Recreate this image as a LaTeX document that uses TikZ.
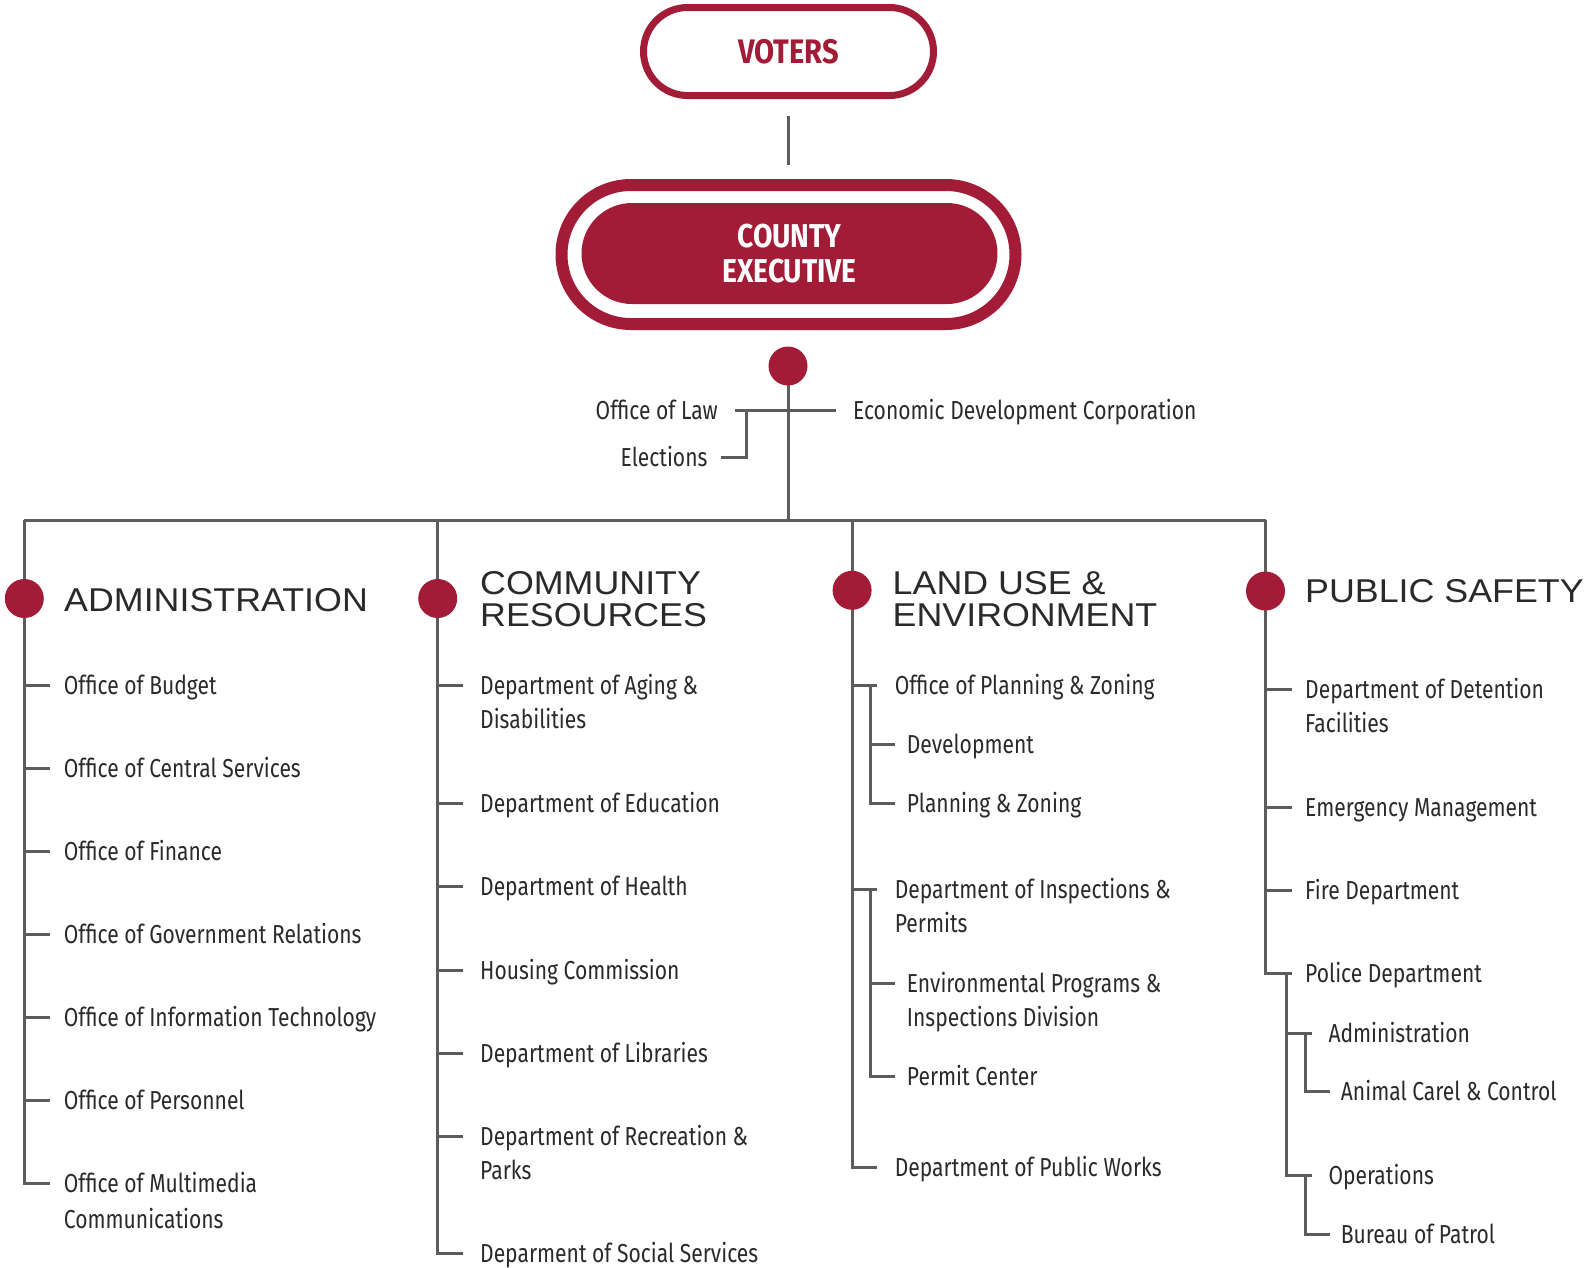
\documentclass[tikz,border=0pt]{standalone}
\usepackage{fontspec}
\newfontfamily\bodyfont{Fira Sans}[FakeStretch=0.81]
\newfontfamily\condfont{Fira Sans}[FakeStretch=0.855]
\newfontfamily\headfont{Liberation Sans}[FakeStretch=1.085]
\usetikzlibrary{calc}
\definecolor{crimson}{HTML}{A31C37}
\definecolor{linegray}{HTML}{5C5C5C}
\definecolor{txt}{HTML}{2B2A2A}

\begin{document}
\begin{tikzpicture}[x=1pt,y=-1pt,
  conn/.style={draw=linegray, line width=3pt},
  item/.style={anchor=west, inner sep=0pt, text=txt,
    font=\bodyfont\fontsize{26}{30}\selectfont, text height=18pt, text depth=0pt},
  head/.style={anchor=west, inner sep=0pt, text=txt,
    font=\headfont\fontsize{33}{36}\selectfont, text height=23.6pt, text depth=0pt},
  bigdot/.style={circle, fill=crimson, minimum size=39pt, inner sep=0pt},
]
\useasboundingbox (0,0) rectangle (1585,1267);

% ---- top of the chart ----
\node[draw=crimson, line width=7pt, fill=white, rounded corners=44pt,
  minimum width=290pt, minimum height=88pt, inner sep=0pt, text=crimson,
  font=\condfont\bfseries\fontsize{34}{36}\selectfont] (voters) at (788.5,51.5) {VOTERS};
\node[draw=crimson, line width=12pt, rounded corners=69.5pt,
  minimum width=454pt, minimum height=139pt, inner sep=0pt] (ring) at (788.5,254.5) {};
\node[fill=crimson, rounded corners=50.5pt, minimum width=416pt, minimum height=101pt,
  inner sep=0pt, text=white, align=center,
  font=\condfont\bfseries\fontsize{33}{35}\selectfont] (exec) at (789.5,253.5) {COUNTY\\EXECUTIVE};
\draw[conn] ([yshift=-17pt]voters.south) -- ([yshift=14pt]voters.south |- ring.north);

\coordinate (hubc) at (788,366);
\coordinate (bus) at (788,520);
\draw[conn] (hubc) -- (bus);

\node[item, anchor=east] (law) at (718,410) {Office of Law};
\node[item, anchor=east] (elec) at (707.6,457) {Elections};
\node[item] (edc) at (853,410) {Economic Development Corporation};
\coordinate (lawL) at (735,410);
\coordinate (edcR) at (835.7,410);
\coordinate (elbend) at (746.4,410);
\draw[conn] (lawL) -- (edcR);
\draw[conn] (elbend) |- ([xshift=13pt]elec.east);

% ---- division bus ----
\coordinate (colA) at (24.3,520);
\coordinate (colB) at (437.7,520);
\coordinate (colC) at (852.1,520);
\coordinate (colD) at (1265.5,520);
\coordinate (tA) at (49.5,520);
\coordinate (tB) at (463,520);
\coordinate (tC) at (876.7,520);
\coordinate (tD) at (1291.5,520);
\draw[conn] (colA) -- (colD);

% ---- headings ----
\node[head] (hA) at (64,600) {ADMINISTRATION};
\node[head] (hB1) at (480,583) {COMMUNITY};
\node[head] (hB2) at (480,614.6) {RESOURCES};
\node[head] (hC1) at (892.5,583) {LAND USE \&};
\node[head] (hC2) at (892.5,614.6) {ENVIRONMENT};
\node[head] (hD) at (1305,591) {PUBLIC SAFETY};

% ---- administration ----
\node[item] (a1) at (63.7,685.3) {Office of Budget};
\node[item] (a2) at (63.7,768.2) {Office of Central Services};
\node[item] (a3) at (63.7,851.1) {Office of Finance};
\node[item] (a4) at (63.7,934.0) {Office of Government Relations};
\node[item] (a5) at (63.7,1017.9) {Office of Information Technology};
\node[item] (a6) at (63.7,1100.8) {Office of Personnel};
\node[item] (a7) at (63.7,1183.7) {Office of Multimedia};
\node[item] (a7b) at (63.7,1219.1) {Communications};
\draw[conn] (colA) -- (colA |- a7.west) -- (tA |- a7.west);
\foreach \n in {a1,a2,a3,a4,a5,a6}
  \draw[conn] (colA |- \n.west) -- (tA |- \n.west);

% ---- community resources ----
\node[item] (b1) at (480,685.3) {Department of Aging \&};
\node[item] (b1b) at (480,719.7) {Disabilities};
\node[item] (b2) at (480,803.6) {Department of Education};
\node[item] (b3) at (480,886.5) {Department of Health};
\node[item] (b4) at (480,970.4) {Housing Commission};
\node[item] (b5) at (480,1053.3) {Department of Libraries};
\node[item] (b6) at (480,1136.2) {Department of Recreation \&};
\node[item] (b6b) at (480,1170.6) {Parks};
\node[item] (b7) at (480,1253.4) {Deparment of Social Services};
\draw[conn] (colB) -- (colB |- b7.west) -- (tB |- b7.west);
\foreach \n in {b1,b2,b3,b4,b5,b6}
  \draw[conn] (colB |- \n.west) -- (tB |- \n.west);

% ---- land use & environment ----
\coordinate (sC) at (870.7,520);
\coordinate (uC) at (895,520);
\node[item] (c1) at (894.6,685.3) {Office of Planning \& Zoning};
\node[item] (c1a) at (906.7,744) {Development};
\node[item] (c1c) at (906.7,803.6) {Planning \& Zoning};
\node[item] (c2) at (894.6,889.5) {Department of Inspections \&};
\node[item] (c2b) at (894.6,923.9) {Permits};
\node[item] (c2a) at (906.7,983.5) {Environmental Programs \&};
\node[item] (c2ab) at (906.7,1017.9) {Inspections Division};
\node[item] (c2c) at (906.7,1076.5) {Permit Center};
\node[item] (c3) at (894.6,1167.5) {Department of Public Works};
\draw[conn] (colC) -- (colC |- c3.west) -- (tC |- c3.west);
\foreach \n in {c1,c2}
  \draw[conn] (colC |- \n.west) -- (tC |- \n.west);
\draw[conn] (sC |- c1.west) |- (uC |- c1c.west);
\draw[conn] (sC |- c1a.west) -- (uC |- c1a.west);
\draw[conn] (sC |- c2.west) |- (uC |- c2c.west);
\draw[conn] (sC |- c2a.west) -- (uC |- c2a.west);

% ---- public safety ----
\coordinate (sD) at (1286.7,520);
\coordinate (uD) at (1311.7,520);
\coordinate (ssD) at (1305,520);
\coordinate (vD) at (1330,520);
\node[item] (d1) at (1305,689.4) {Department of Detention};
\node[item] (d1b) at (1305,723.7) {Facilities};
\node[item] (d2) at (1305,807.6) {Emergency Management};
\node[item] (d3) at (1305,890.5) {Fire Department};
\node[item] (d4) at (1305,973.4) {Police Department};
\node[item] (d4a) at (1328.3,1033) {Administration};
\node[item] (d4a1) at (1340.7,1091.7) {Animal Carel \& Control};
\node[item] (d4b) at (1328.3,1175.6) {Operations};
\node[item] (d4b1) at (1340.7,1234) {Bureau of Patrol};
\draw[conn] (colD) -- (colD |- d4.west) -- (tD |- d4.west);
\foreach \n in {d1,d2,d3}
  \draw[conn] (colD |- \n.west) -- (tD |- \n.west);
\draw[conn] (sD |- d4.west) |- (uD |- d4b.west);
\draw[conn] (sD |- d4a.west) -- (uD |- d4a.west);
\draw[conn] (ssD |- d4a.west) |- (vD |- d4a1.west);
\draw[conn] (ssD |- d4b.west) |- (vD |- d4b1.west);

% ---- dots on the lines ----
\node[bigdot] (hub) at (hubc) {};
\node[bigdot] (dA) at (24.3,598.5) {};
\node[bigdot] (dB) at (437.7,598.5) {};
\node[bigdot] (dC) at (852.1,590.3) {};
\node[bigdot] (dD) at (1265.5,591) {};
\end{tikzpicture}
\end{document}
